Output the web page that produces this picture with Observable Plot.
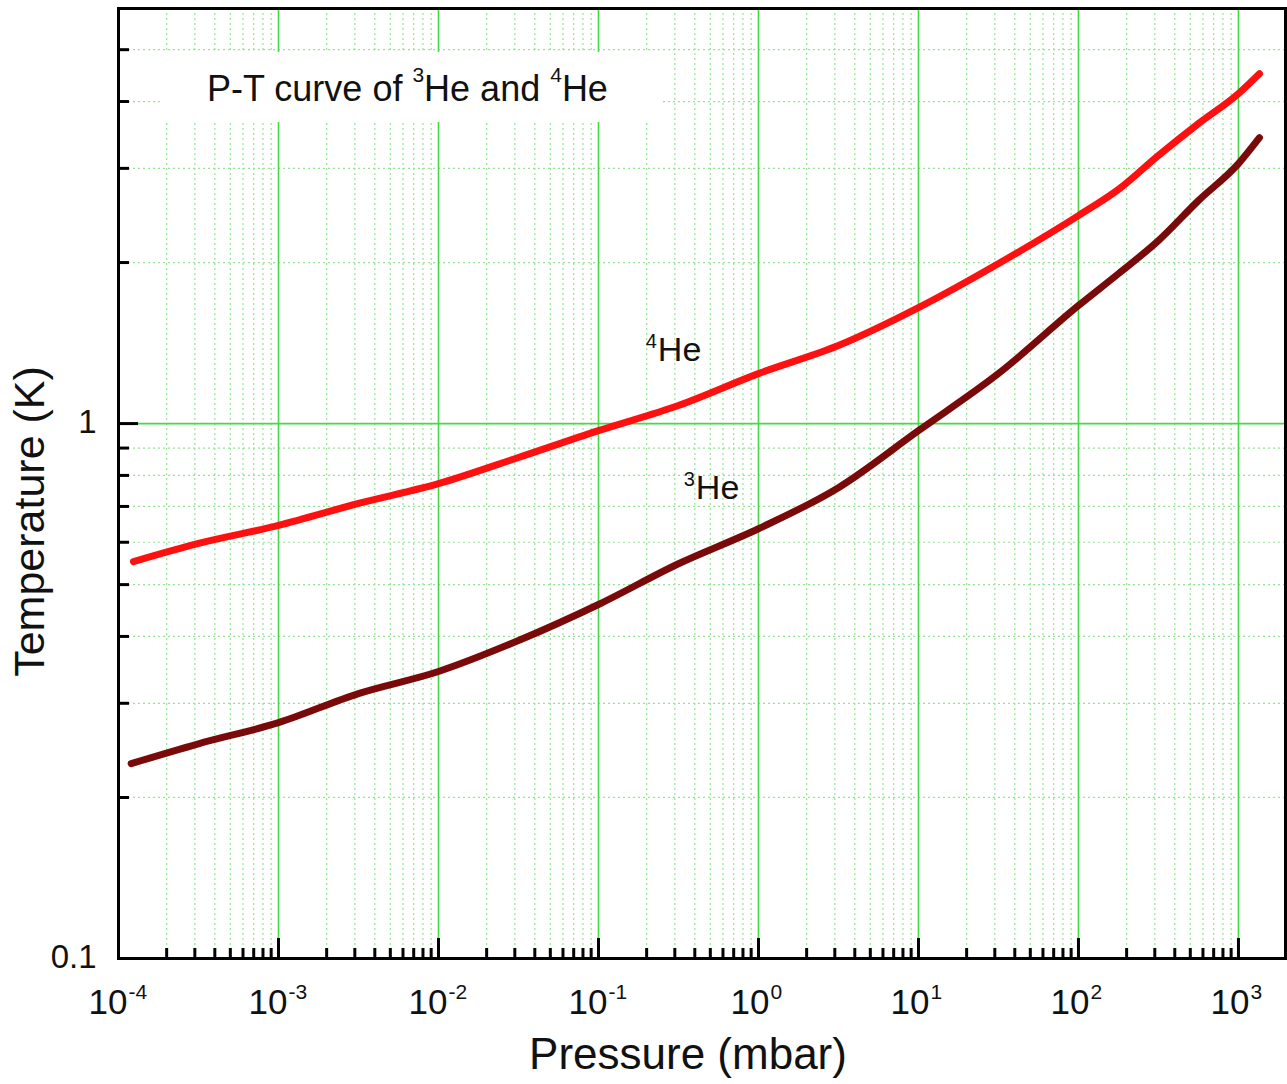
<!DOCTYPE html>
<html><head><meta charset="utf-8">
<script src="https://cdn.jsdelivr.net/npm/d3@7"></script>
<script src="https://cdn.jsdelivr.net/npm/@observablehq/plot@0.6"></script>
<style>
body{margin:0;background:#fff;}
#wrap{position:relative;width:1287px;height:1084px;font-family:"Liberation Sans",Arial,sans-serif;}
#title{position:absolute;left:160px;top:52px;width:502px;height:70px;background:#fff;}
#title span{position:absolute;left:47px;top:19px;font-size:36px;line-height:36px;white-space:nowrap;color:#111;}
#title sup{font-size:21px;line-height:0;vertical-align:19px;}
</style>
</head><body>
<div id="wrap"><div id="chart"></div><div id="title"><span>P-T curve of <sup>3</sup>He and <sup>4</sup>He</span></div></div>
<script>
// ---- data ----
const he4Pressure = [1.24e-4, 3.16e-4, 1e-3, 3.16e-3, 0.01, 0.0316, 0.1, 0.316, 1, 3.16, 10, 32.5, 100, 178, 316, 562, 1000, 1353];
const he4Temp     = [0.552, 0.597, 0.645, 0.709, 0.772, 0.864, 0.970, 1.081, 1.240, 1.399, 1.647, 2.0, 2.448, 2.74, 3.17, 3.637, 4.139, 4.51];
const he3Pressure = [1.2e-4, 3.16e-4, 1e-3, 3.16e-3, 0.01, 0.0316, 0.1, 0.316, 1, 3.16, 10, 31.6, 100, 178, 316, 562, 1000, 1353];
const he3Temp     = [0.2314, 0.252, 0.276, 0.3128, 0.344, 0.393, 0.459, 0.547, 0.636, 0.759, 0.970, 1.240, 1.662, 1.907, 2.198, 2.611, 3.062, 3.424];
const xDecades = [-4, -3, -2, -1, 0, 1, 2, 3];          // tick exponents, labels 10^n
const yTickLabels = [0.1, 1];
const yMinor = [0.2, 0.3, 0.4, 0.5, 0.6, 0.7, 0.8, 0.9, 2, 3, 4, 5];
const labelNames = ["4", "3"];
const labelP = [0.235, 0.406];
const labelT = [1.311, 0.724];

// ---- build tables ----
const he4 = he4Pressure.map((p, i) => ({p, t: he4Temp[i]}));
const he3 = he3Pressure.map((p, i) => ({p, t: he3Temp[i]}));
const xMajor = xDecades.map(e => Math.pow(10, e));
const xMinor = [];
xDecades.forEach(e => { for (let m = 2; m <= 9; m++) { const v = m * Math.pow(10, e); if (v < 1968) xMinor.push(v); } });
const labels = labelNames.map((n, i) => ({n, p: labelP[i], t: labelT[i]}));
const negDec = xDecades.filter(e => e < 0), posDec = xDecades.filter(e => e >= 0);

const W = 1287, H = 1084, mL = 118, mR = 2, mT = 8, mB = 126;
const fw = W - mL - mR, fh = H - mT - mB;
const majorGreen = "#46d846", minorGreen = "#93e493";
const font = "Liberation Sans, Arial, sans-serif";

const expLabels = (decs, dx) => [
  Plot.text(decs, {x: e => Math.pow(10, e), frameAnchor: "bottom", text: () => "10", textAnchor: "end",
    lineAnchor: "bottom", dx, dy: 55, fontSize: 35, fill: "#111"}),
  Plot.text(decs, {x: e => Math.pow(10, e), frameAnchor: "bottom", text: e => String(e), textAnchor: "start",
    lineAnchor: "bottom", dx: dx + 1, dy: 40, fontSize: 21, fill: "#111"})
];

const chart = Plot.plot({
  width: W, height: H,
  marginLeft: mL, marginRight: mR, marginTop: mT, marginBottom: mB,
  style: {fontFamily: font, background: "white", overflow: "visible"},
  x: {type: "log", domain: [1e-4, 1968], axis: null},
  y: {type: "log", domain: [0.1, 5.97], axis: null},
  marks: [
    // grid
    Plot.ruleX(xMinor, {stroke: minorGreen, strokeWidth: 1.2, strokeDasharray: "2,3"}),
    Plot.ruleY(yMinor, {stroke: minorGreen, strokeWidth: 1.2, strokeDasharray: "2,3"}),
    Plot.ruleX(xMajor.slice(1), {stroke: majorGreen, strokeWidth: 1.6}),
    Plot.ruleY([1], {stroke: majorGreen, strokeWidth: 1.6}),
    // curves
    Plot.line(he3, {x: "p", y: "t", stroke: "#7a0a0a", strokeWidth: 7, curve: "monotone-x", strokeLinecap: "round", strokeLinejoin: "round"}),
    Plot.line(he4, {x: "p", y: "t", stroke: "#ff1010", strokeWidth: 7, curve: "monotone-x", strokeLinecap: "round", strokeLinejoin: "round"}),
    // ticks (inward)
    Plot.ruleX(xMinor, {stroke: "black", strokeWidth: 3, insetTop: fh - 10}),
    Plot.ruleX(xMajor, {stroke: "black", strokeWidth: 3, insetTop: fh - 20}),
    Plot.ruleY(yMinor, {stroke: "black", strokeWidth: 3, insetRight: fw - 11}),
    Plot.ruleY([1], {stroke: "black", strokeWidth: 3, insetRight: fw - 20}),
    Plot.frame({stroke: "black", strokeWidth: 3}),
    // tick labels
    ...expLabels(negDec, 9),
    ...expLabels(posDec, 11),
    Plot.text(yTickLabels, {y: d => d, frameAnchor: "left", text: d => String(d), textAnchor: "end",
      lineAnchor: "middle", dx: -22, dy: -1.5, fontSize: 33, fill: "#111"}),
    // axis labels
    Plot.text(["Pressure (mbar)"], {frameAnchor: "bottom", text: d => d, textAnchor: "middle", lineAnchor: "bottom", dx: -14, dy: 110, fontSize: 44, fill: "#111"}),
    Plot.text(["Temperature (K)"], {frameAnchor: "left", text: d => d, rotate: -90, textAnchor: "middle", lineAnchor: "bottom", dx: -75, dy: 38, fontSize: 43, fill: "#111"}),
    // curve labels
    Plot.text(labels, {x: "p", y: "t", text: () => "He", textAnchor: "start", lineAnchor: "bottom", fontSize: 34, fill: "#111"}),
    Plot.text(labels, {x: "p", y: "t", text: "n", textAnchor: "end", lineAnchor: "bottom", dx: -1, dy: -13, fontSize: 20, fill: "#111"})
  ]
});
document.getElementById("chart").appendChild(chart);
</script>
</body></html>
